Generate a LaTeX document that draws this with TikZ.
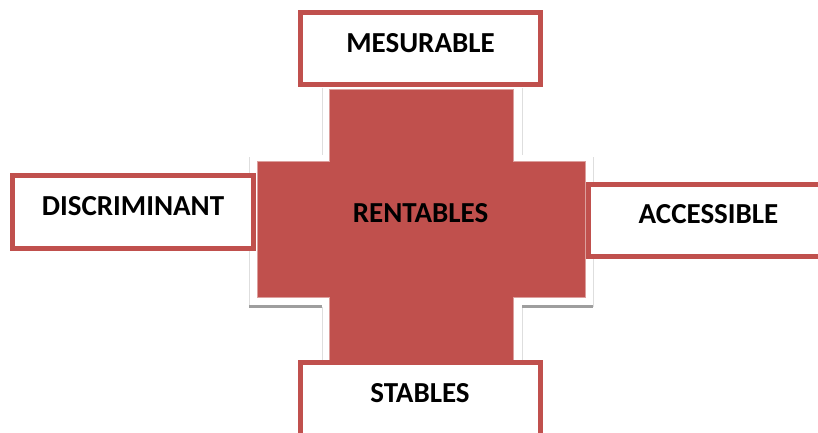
\documentclass[tikz,border=0pt]{standalone}
\usepackage{fontspec}
\setmainfont{Carlito}
\definecolor{accentred}{HTML}{C0504D}
\begin{document}
\begin{tikzpicture}[x=1pt,y=-1pt,
  labelbox/.style={draw=accentred, line width=5pt, fill=white,
    minimum width=240pt, minimum height=72pt, inner sep=0pt},
  labeltext/.style={font=\fontsize{29}{32}\selectfont\bfseries, text=black,
    inner sep=0pt, anchor=base},
  shadowline/.style={draw=black!13, line width=1pt},
  shadowbase/.style={draw=black!38, line width=3pt},
]
\useasboundingbox (0,0) rectangle (818,432);

% faint outline of the cross behind the red one
\draw[shadowline] (322,88) -- (322,155);
\draw[shadowline] (522,88) -- (522,155);
\draw[shadowline] (249,157) -- (249,307);
\draw[shadowline] (593,157) -- (593,307);
\draw[shadowline] (322,307) -- (322,362);
\draw[shadowline] (522,307) -- (522,362);
\draw[shadowbase] (249,306.5) -- (322,306.5);
\draw[shadowbase] (522,306.5) -- (593,306.5);

% red cross
\fill[accentred, draw=accentred!55!white, line width=0.6pt]
  (329,89) -- (513,89) -- (513,161) -- (585,161) -- (585,297) -- (513,297)
  -- (513,362) -- (329,362) -- (329,297) -- (257,297) -- (257,161)
  -- (329,161) -- cycle;
\node[labeltext] (rentables) at (420.5,222.5) {RENTABLES};

% boxes round the cross
\node[labelbox] (mesbox) at (420.5,48.5) {};
\node[labelbox, minimum height=77pt] (stabox) at (420,401) {};
\node[labelbox, minimum width=241pt, minimum height=73pt] (disbox) at (133,212) {};
\node[labelbox] (accbox) at (708.5,220.5) {};

\node[labeltext] (mesurable) at ([yshift=-42.5pt]mesbox.north) {MESURABLE};
\node[labeltext] (stables) at ([yshift=-42.5pt]stabox.north) {STABLES};
\node[labeltext] (discriminant) at ([yshift=-42pt]disbox.north) {DISCRIMINANT};
\node[labeltext] (accessible) at ([yshift=-41pt]accbox.north) {ACCESSIBLE};
\end{tikzpicture}
\end{document}
